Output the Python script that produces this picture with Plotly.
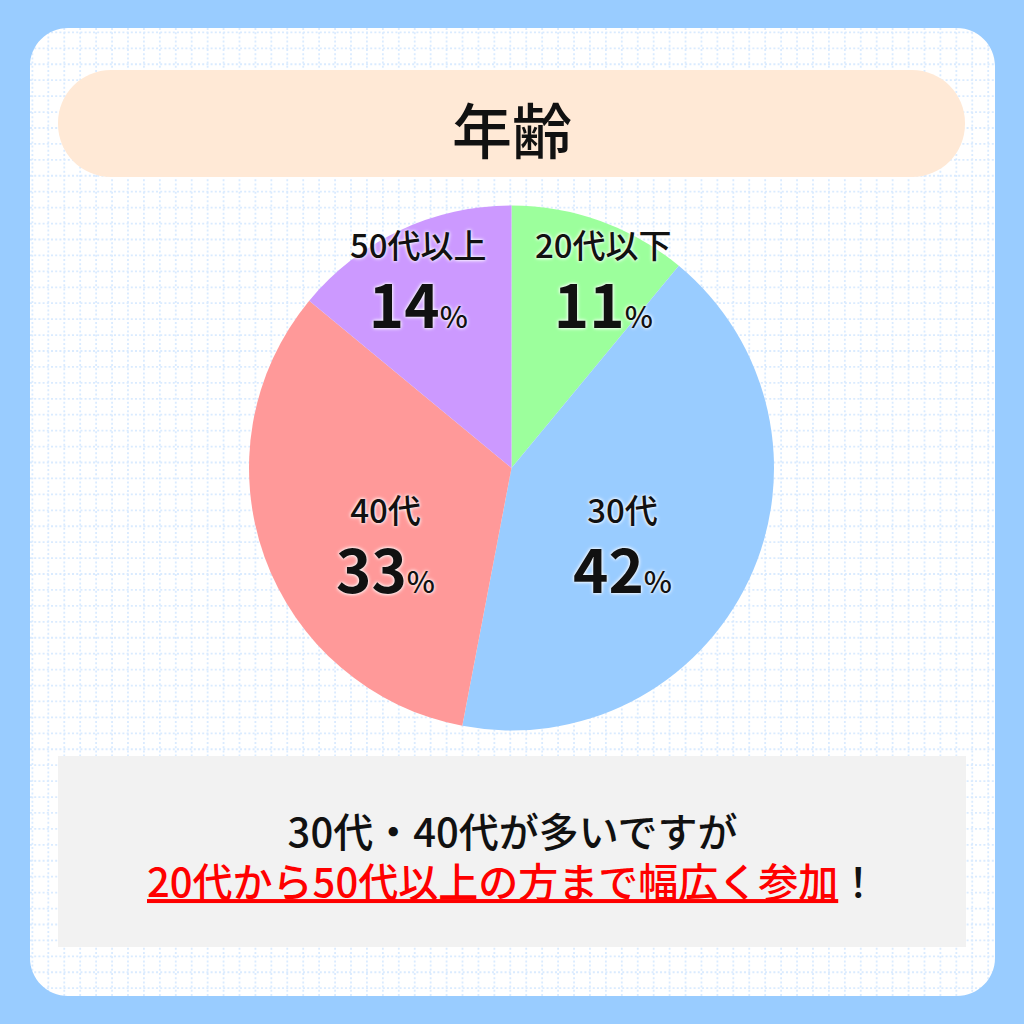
import plotly.graph_objects as go

# ---- data ----
title_text = "年齢"
categories = ["20代以下", "30代", "40代", "50代以上"]
percent_values = [11, 42, 33, 14]
slice_colors = ["#9CFF9C", "#99CCFF", "#FF9999", "#CC99FF"]
summary_line1 = "30代・40代が多いですが"
summary_line2 = "20代から50代以上の方まで幅広く参加"
summary_tail = "！"

W = H = 1024
FONT = "Noto Sans CJK JP"


def px(x):
    return x / W


def py(y):
    return 1 - y / H


def rrect_path(x0, y0, x1, y1, r):
    k = 0.5523 * r
    X = lambda v: f"{px(v):.5f}"
    Y = lambda v: f"{py(v):.5f}"
    p = f"M {X(x0 + r)},{Y(y0)} L {X(x1 - r)},{Y(y0)} "
    p += f"C {X(x1 - r + k)},{Y(y0)} {X(x1)},{Y(y0 + r - k)} {X(x1)},{Y(y0 + r)} "
    p += f"L {X(x1)},{Y(y1 - r)} "
    p += f"C {X(x1)},{Y(y1 - r + k)} {X(x1 - r + k)},{Y(y1)} {X(x1 - r)},{Y(y1)} "
    p += f"L {X(x0 + r)},{Y(y1)} "
    p += f"C {X(x0 + r - k)},{Y(y1)} {X(x0)},{Y(y1 - r + k)} {X(x0)},{Y(y1 - r)} "
    p += f"L {X(x0)},{Y(y0 + r)} "
    p += f"C {X(x0)},{Y(y0 + r - k)} {X(x0 + r - k)},{Y(y0)} {X(x0 + r)},{Y(y0)} Z"
    return p


shapes = []
# dotted grid on the card
grid_color = "#DAEBFF"
g = 32.4
while g < 996:
    shapes.append(dict(type="line", xref="paper", yref="paper", layer="below",
                       x0=px(g), x1=px(g), y0=py(28), y1=py(996),
                       line=dict(color=grid_color, width=1.8, dash="2px,2.2px")))
    shapes.append(dict(type="line", xref="paper", yref="paper", layer="below",
                       x0=px(30), x1=px(996), y0=py(g), y1=py(g),
                       line=dict(color=grid_color, width=1.8, dash="2px,2.2px")))
    g += 15.93

# outer blue frame with rounded inner cut-out
frame = "M 0,0 L 1,0 L 1,1 L 0,1 Z " + rrect_path(30, 28, 995, 996, 38)
shapes.append(dict(type="path", xref="paper", yref="paper", layer="below",
                   path=frame, fillcolor="#99CCFF", line=dict(width=0),
                   fillrule="evenodd"))
# title bar
shapes.append(dict(type="path", xref="paper", yref="paper", layer="below",
                   path=rrect_path(58, 70, 965, 177, 53), fillcolor="#FFE9D6",
                   line=dict(width=0)))
# summary box
shapes.append(dict(type="rect", xref="paper", yref="paper", layer="below",
                   x0=px(58), x1=px(966), y0=py(756), y1=py(947),
                   fillcolor="#F2F2F2", line=dict(width=0)))

cx, cy, r = 511.5, 468, 262.5
fig = go.Figure(go.Pie(
    labels=categories, values=percent_values, sort=False, direction="clockwise",
    rotation=0, marker=dict(colors=slice_colors, line=dict(width=0)),
    textinfo="none", hoverinfo="label+percent", showlegend=False,
    domain=dict(x=[px(cx - r), px(cx + r)], y=[py(cy + r), py(cy - r)]),
))

annotations = []
annotations.append(dict(text=title_text, x=px(512), y=py(127), xref="paper", yref="paper",
                        showarrow=False, xanchor="center", yanchor="middle",
                        font=dict(family=FONT, size=60, color="#111111", weight=500)))

# label block centre positions (x, y of the two-line block)
label_pos = [(603, 282), (622, 547), (385, 547), (418, 282)]
shadow = "0px 0px 3px #ffffff, 0px 0px 4px #ffffff"
for cat, val, (lx, ly) in zip(categories, percent_values, label_pos):
    txt = (f"<span style='font-size:33px;font-weight:500'>{cat}</span><br>"
           f"<span style='font-size:60px'>{val}</span>"
           f"<span style='font-size:30px;font-weight:500'>%</span>")
    annotations.append(dict(text=txt, x=px(lx), y=py(ly), xref="paper", yref="paper",
                            showarrow=False, xanchor="center", yanchor="middle",
                            font=dict(family=FONT, size=54, color="#111111", weight=700,
                                      shadow=shadow)))

summary = (f"<span style='font-size:40px'>{summary_line1}</span><br>"
           f"<span style='font-size:40px'><span style='color:#FF0000'><u>{summary_line2}</u></span>"
           f"{summary_tail}</span>")
annotations.append(dict(text=summary, x=px(512), y=py(855), xref="paper", yref="paper",
                        showarrow=False, xanchor="center", yanchor="middle",
                        font=dict(family=FONT, size=38.5, color="#111111", weight=500)))

fig.update_layout(width=W, height=H, margin=dict(l=0, r=0, t=0, b=0),
                  paper_bgcolor="#FFFFFF", plot_bgcolor="#FFFFFF",
                  shapes=shapes, annotations=annotations)

fig.write_html("out.html", config=dict(displayModeBar=False),
               post_script="document.body.style.margin='0';document.body.style.overflow='hidden';")
